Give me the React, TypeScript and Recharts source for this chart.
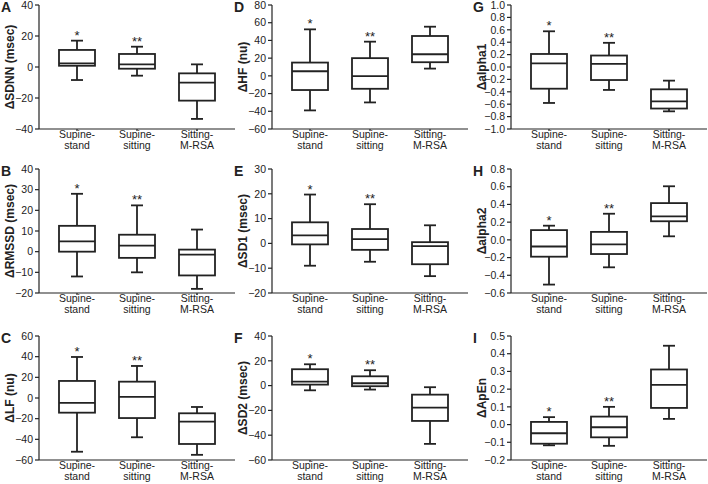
import { ComposedChart, Bar, XAxis, YAxis, Label } from 'recharts';

const categories = ['Supine-stand', 'Supine-sitting', 'Sitting-M-RSA'];
const stars = ['*', '**', ''];

// five-number summary per category: [min, q1, median, q3, max]
const sdnnStats = [[-8.4, 0.8, 2.4, 11, 17], [-5.6, -1.1, 1.7, 8.4, 13.1], [-33.5, -21.7, -10.1, -4.1, 1.7]];
const rmssdStats = [[-12, 0, 5, 12.5, 28], [-10, -3, 2.9, 8.2, 22.4], [-18, -11.5, -1.4, 1, 10.7]];
const lfStats = [[-52, -14.2, -4.8, 16.5, 39.7], [-38, -19.4, 1, 15.8, 31], [-55, -44.5, -22.9, -14.8, -8.7]];
const hfStats = [[-39, -16, 5.2, 15, 52.5], [-30, -14.6, -0.4, 20, 38.6], [8.2, 15.4, 24.4, 45, 55.5]];
const sd1Stats = [[-9, -0.4, 3.2, 8.5, 19.7], [-7.4, -2.6, 1.75, 5.8, 15.8], [-13.2, -8.4, -1.1, 0.5, 7.3]];
const sd2Stats = [[-3.8, 0.8, 3.2, 13.2, 17.2], [-3.2, -0.5, 1.9, 7.5, 12.4], [-47, -28.5, -17.7, -7.3, -1.3]];
const alpha1Stats = [[-0.58, -0.35, 0.06, 0.21, 0.576], [-0.37, -0.21, 0.05, 0.185, 0.39], [-0.715, -0.67, -0.555, -0.36, -0.22]];
const alpha2Stats = [[-0.505, -0.19, -0.075, 0.11, 0.16], [-0.31, -0.16, -0.05, 0.09, 0.295], [0.04, 0.21, 0.265, 0.415, 0.605]];
const apenStats = [[-0.117, -0.108, -0.049, 0.015, 0.042], [-0.12, -0.072, -0.015, 0.045, 0.1], [0.032, 0.094, 0.224, 0.311, 0.445]];

const sdnnTicks = [-40, -20, 0, 20, 40];
const rmssdTicks = [-20, -10, 0, 10, 20, 30, 40];
const lfTicks = [-60, -40, -20, 0, 20, 40, 60];
const hfTicks = [-60, -40, -20, 0, 20, 40, 60, 80];
const sd1Ticks = [-20, -10, 0, 10, 20, 30];
const sd2Ticks = [-60, -40, -20, 0, 20, 40];
const alpha1Ticks = [-1, -0.8, -0.6, -0.4, -0.2, 0, 0.2, 0.4, 0.6, 0.8, 1];
const alpha2Ticks = [-0.6, -0.4, -0.2, 0, 0.2, 0.4, 0.6, 0.8];
const apenTicks = [-0.2, -0.1, 0, 0.1, 0.2, 0.3, 0.4, 0.5];

const INK = '#222';
const FONT = '"Liberation Sans", Arial, sans-serif';

const panels = [
  { letter: 'A', label: 'ΔSDNN (msec)', stats: sdnnStats, ticks: sdnnTicks, dec: 0, col: 0, row: 0 },
  { letter: 'B', label: 'ΔRMSSD (msec)', stats: rmssdStats, ticks: rmssdTicks, dec: 0, col: 0, row: 1 },
  { letter: 'C', label: 'ΔLF (nu)', stats: lfStats, ticks: lfTicks, dec: 0, col: 0, row: 2 },
  { letter: 'D', label: 'ΔHF (nu)', stats: hfStats, ticks: hfTicks, dec: 0, col: 1, row: 0 },
  { letter: 'E', label: 'ΔSD1 (msec)', stats: sd1Stats, ticks: sd1Ticks, dec: 0, col: 1, row: 1 },
  { letter: 'F', label: 'ΔSD2 (msec)', stats: sd2Stats, ticks: sd2Ticks, dec: 0, col: 1, row: 2 },
  { letter: 'G', label: 'Δalpha1', stats: alpha1Stats, ticks: alpha1Ticks, dec: 1, col: 2, row: 0 },
  { letter: 'H', label: 'Δalpha2', stats: alpha2Stats, ticks: alpha2Ticks, dec: 1, col: 2, row: 1 },
  { letter: 'I', label: 'ΔApEn', stats: apenStats, ticks: apenTicks, dec: 1, col: 2, row: 2 },
];

const colLeft = [0, 233, 472];
const rowTop = [0, 164, 331];

const BoxShape = (props: any) => {
  const { x, y, width, height, payload } = props;
  const top = Math.min(y, y + height);
  const bot = Math.max(y, y + height);
  const span = payload.max - payload.min;
  const py = (v: number) => top + ((payload.max - v) / span) * (bot - top);
  const cx = x + width / 2;
  const sw = 1.8;
  return (
    <g stroke={INK} strokeWidth={sw} fill="none">
      <line x1={cx} x2={cx} y1={py(payload.max)} y2={py(payload.q3)} />
      <line x1={cx} x2={cx} y1={py(payload.q1)} y2={py(payload.min)} />
      <line x1={cx - 6} x2={cx + 6} y1={py(payload.max)} y2={py(payload.max)} />
      <line x1={cx - 6} x2={cx + 6} y1={py(payload.min)} y2={py(payload.min)} />
      <rect x={x} y={py(payload.q3)} width={width} height={py(payload.q1) - py(payload.q3)} fill="#fff" />
      <line x1={x} x2={x + width} y1={py(payload.med)} y2={py(payload.med)} />
      {payload.star && (
        <text x={cx} y={py(payload.max) - 1} textAnchor="middle" fontSize={13} fill={INK} stroke="none" fontFamily={FONT}>
          {payload.star}
        </text>
      )}
    </g>
  );
};

const CatTick = (props: any) => {
  const { x, y, payload } = props;
  const i = payload.value.indexOf('-');
  const a = payload.value.slice(0, i + 1);
  const b = payload.value.slice(i + 1);
  return (
    <text x={x} y={y} textAnchor="middle" fontSize={10.5} fill={INK} fontFamily={FONT}>
      <tspan x={x} dy={5}>{a}</tspan>
      <tspan x={x} dy={11}>{b}</tspan>
    </text>
  );
};

const YTitle = (props: any) => {
  const { viewBox, value } = props;
  const cx = viewBox.x + 10;
  const cy = viewBox.y + viewBox.height / 2;
  return (
    <text x={cx} y={cy} transform={`rotate(-90 ${cx} ${cy})`} textAnchor="middle" dominantBaseline="central"
      fontSize={12} fontWeight="bold" fill={INK} fontFamily={FONT}>
      {value}
    </text>
  );
};

const Letter = (props: any) => {
  const { viewBox, value } = props;
  return (
    <text x={viewBox.x + 1} y={viewBox.y + 7} fontSize={14} fontWeight="bold" fill={INK} fontFamily={FONT}>
      {value}
    </text>
  );
};

function Panel({ p }: { p: (typeof panels)[number] }) {
  const data = categories.map((c, i) => {
    const [min, q1, med, q3, max] = p.stats[i];
    return { cat: c, range: [min, max], min, q1, med, q3, max, star: stars[i] };
  });
  const fmt = (v: number) => {
    const s = Math.abs(v).toFixed(p.dec);
    return v < 0 ? `\u2212${s}` : s;
  };
  return (
    <div style={{ position: 'absolute', left: colLeft[p.col], top: rowTop[p.row] }}>
      <ComposedChart width={236} height={152} data={data} margin={{ top: 5, right: 1, bottom: 1, left: 0 }}>
        <XAxis dataKey="cat" type="category" padding={{ left: 8, right: 8 }} stroke={INK} strokeWidth={1.2}
          tickSize={2} tick={<CatTick />} height={22} interval={0} />
        <YAxis type="number" domain={[p.ticks[0], p.ticks[p.ticks.length - 1]]} ticks={p.ticks} interval={0}
          width={39} stroke={INK} strokeWidth={1.2} tickSize={4} tickFormatter={fmt}
          tick={{ fontSize: 10.5, fill: INK, fontFamily: FONT }}>
          <Label content={<YTitle />} value={p.label} />
          <Label content={<Letter />} value={p.letter} />
        </YAxis>
        <Bar dataKey="range" barSize={36} shape={<BoxShape />} isAnimationActive={false} />
      </ComposedChart>
    </div>
  );
}

export default function App() {
  return (
    <div style={{ position: 'absolute', left: 0, top: 0, width: 708, height: 484, background: '#fff', fontFamily: FONT, overflow: 'hidden' }}>
      {panels.map((p) => (
        <Panel key={p.letter} p={p} />
      ))}
    </div>
  );
}
